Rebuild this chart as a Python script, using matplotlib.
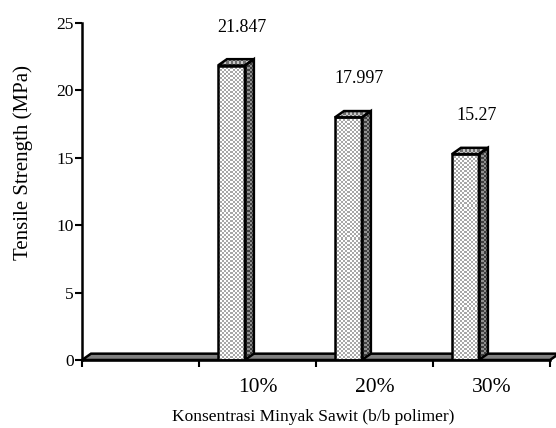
import numpy as np
import matplotlib.pyplot as plt
from matplotlib.patches import Polygon
from matplotlib.colors import ListedColormap

# Data
categories = ['', '10%', '20%', '30%']
tensile = [np.nan, 21.847, 17.997, 15.27]
value_labels = ['', '21.847', '17.997', '15.27']

plt.rcParams['font.family'] = 'Liberation Serif'

fig = plt.figure(figsize=(5.56, 4.28), dpi=100)
ax = fig.add_axes([82 / 556, 68 / 428, 468 / 556, 337 / 428])
xmin, xmax = -0.5, len(categories) - 0.5
ax.set_xlim(xmin, xmax)
ax.set_ylim(0, 25)

# fake 3d depth and bar geometry (in data units)
dx, dy = 0.077, 0.47
off, w = -0.338, 0.23


def checker_face(poly, c1, c2, z):
    # polygon filled with a small checkerboard, black outline on top
    edge = Polygon(poly, closed=True, facecolor='none', edgecolor='black',
                   lw=1.8, joinstyle='miter', zorder=z + 0.5)
    ax.add_patch(edge)
    xs = [p[0] for p in poly]
    ys = [p[1] for p in poly]
    x0, x1, y0, y1 = min(xs), max(xs), min(ys), max(ys)
    p0 = ax.transData.transform((x0, y0))
    p1 = ax.transData.transform((x1, y1))
    nx = max(int(abs(p1[0] - p0[0]) / 2), 1)
    ny = max(int(abs(p1[1] - p0[1]) / 2), 1)
    grid = np.indices((ny, nx)).sum(axis=0) % 2
    im = ax.imshow(grid, cmap=ListedColormap([c1, c2]), extent=(x0, x1, y0, y1),
                   origin='lower', interpolation='nearest', aspect='auto', zorder=z)
    im.set_clip_path(edge)


# grey floor
floor = Polygon([(xmin, 0), (xmax, 0), (xmax + dx, dy), (xmin + dx, dy)], closed=True,
                facecolor='#808080', edgecolor='black', lw=1.8, zorder=2, clip_on=False)
ax.add_patch(floor)

for i, v in enumerate(tensile):
    if np.isnan(v):
        continue
    l = i + off
    r = l + w
    z = 3 + i
    # front, side, top
    checker_face([(l, 0), (r, 0), (r, v), (l, v)], '#ffffff', '#a8a8a8', z)
    checker_face([(r, 0), (r + dx, dy), (r + dx, v + dy), (r, v)], '#909090', '#404040', z)
    checker_face([(l, v), (r, v), (r + dx, v + dy), (l + dx, v + dy)], '#c8c8c8', '#707070', z)
    ax.text(i - 0.13, v + 2.85, value_labels[i], ha='center', va='center', fontsize=13)

ax.set_xlim(xmin, xmax)
ax.set_ylim(0, 25)

for s in ['top', 'right']:
    ax.spines[s].set_visible(False)
for s in ['left', 'bottom']:
    ax.spines[s].set_linewidth(1.8)
    ax.spines[s].set_zorder(10)

ax.set_yticks(np.arange(0, 26, 5))
ax.tick_params(axis='y', length=5, width=1.5, pad=1, labelsize=12.5)
ax.set_xticks(np.arange(xmin, xmax + 0.01, 1))
ax.set_xticklabels([])
ax.set_xticks(range(len(categories)), minor=True)
ax.set_xticklabels(categories, minor=True, fontsize=15.5)
ax.tick_params(axis='x', which='major', length=5, width=1.5)
ax.tick_params(axis='x', which='minor', length=0, pad=13)

fig.text(23 / 556, 1 - 163 / 428, 'Tensile Strength (MPa)', rotation=90,
         ha='center', va='center', fontsize=15)
fig.text(313 / 556, 1 - 417 / 428, 'Konsentrasi Minyak Sawit (b/b polimer)',
         ha='center', va='center', fontsize=12.5)

fig.savefig('out.png', dpi=100)
